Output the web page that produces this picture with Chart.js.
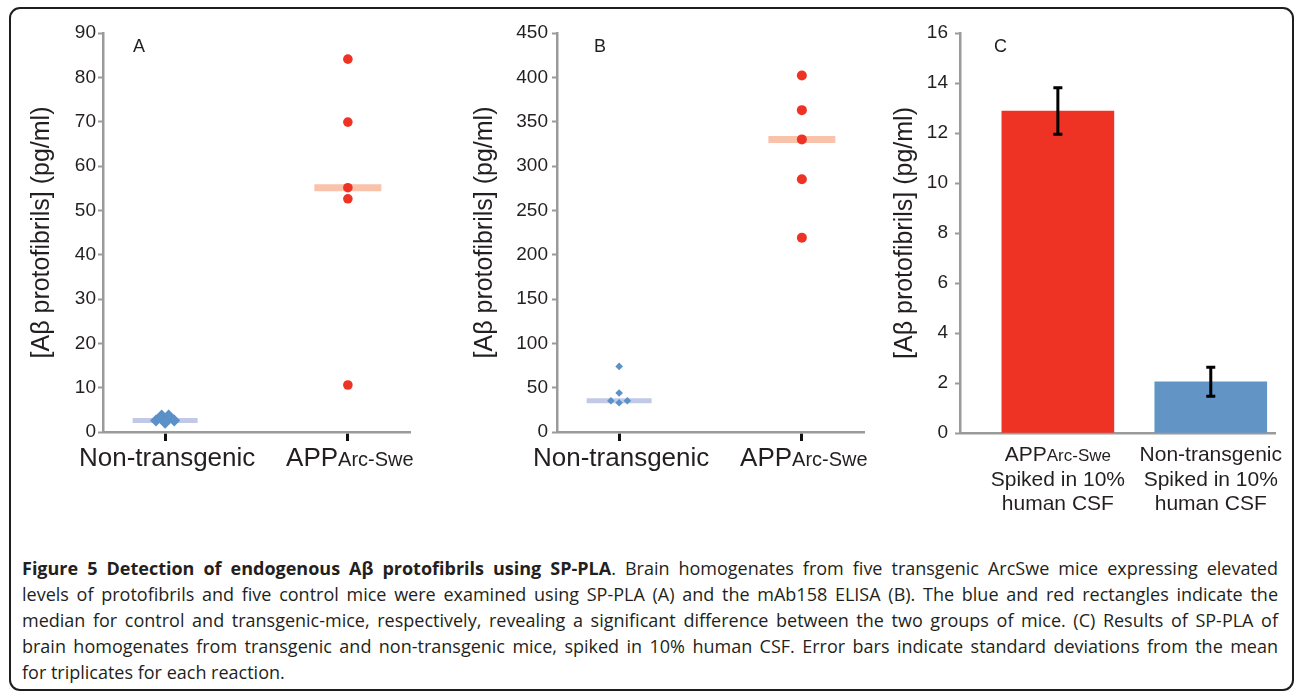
<!DOCTYPE html>
<html>
<head>
<meta charset="utf-8">
<script src="https://cdn.jsdelivr.net/npm/chart.js@4.4.1/dist/chart.umd.min.js"></script>
<style>
  html, body { margin: 0; padding: 0; background: #fff; }
  body { width: 1296px; height: 693px; position: relative; overflow: hidden; }
  #frame { position: absolute; left: 9px; top: 7px; width: 1285px; height: 684px; border: 2px solid #1e1e1e; border-radius: 11px; box-sizing: border-box; }
  canvas { position: absolute; top: 0; }
  #caption { position: absolute; left: 22px; top: 555px; width: 1256px; font-family: "Open Sans", sans-serif; font-size: 18px; line-height: 26px; color: #231f20; }
  #caption div { text-align: justify; text-align-last: justify; }
  #caption div.last { text-align: left; text-align-last: left; }
  #caption b { font-weight: 700; }
</style>
</head>
<body>
<div id="frame"></div>
<canvas id="chartA" width="440" height="530" style="left:0px"></canvas>
<canvas id="chartB" width="450" height="530" style="left:440px"></canvas>
<canvas id="chartC" width="416" height="530" style="left:880px"></canvas>
<div id="caption">
  <div><b>Figure 5 Detection of endogenous Aβ protofibrils using SP-PLA</b>. Brain homogenates from five transgenic ArcSwe mice expressing elevated</div>
  <div>levels of protofibrils and five control mice were examined using SP-PLA (A) and the mAb158 ELISA (B). The blue and red rectangles indicate the</div>
  <div>median for control and transgenic-mice, respectively, revealing a significant difference between the two groups of mice. (C) Results of SP-PLA of</div>
  <div>brain homogenates from transgenic and non-transgenic mice, spiked in 10% human CSF. Error bars indicate standard deviations from the mean</div>
  <div class="last">for triplicates for each reaction.</div>
</div>
<script>
// ---------------- data ----------------
const yTitle = '[Aβ protofibrils] (pg/ml)';
const groupsAB = [
  { main: 'Non-transgenic', sub: '' },
  { main: 'APP', sub: 'Arc-Swe' }
];
const groupsC = [
  { main: 'APP', sub: 'Arc-Swe', extra: ['Spiked in 10%', 'human CSF'] },
  { main: 'Non-transgenic', sub: '', extra: ['Spiked in 10%', 'human CSF'] }
];
// Panel A: SP-PLA
const aNonTg = [3.7, 3.7, 2.6, 2.6, 2.1];
const aNonTgJitter = [-0.019, 0.019, -0.05, 0.05, 0];
const aTg = [84.1, 69.9, 55.1, 52.6, 10.6];
const aTicks = [0, 10, 20, 30, 40, 50, 60, 70, 80, 90];
// Panel B: mAb158 ELISA
const bNonTg = [74, 44, 35.3, 35.3, 33];
const bNonTgJitter = [0, 0, -0.045, 0.045, 0];
const bTg = [402, 363, 330, 285, 219];
const bTicks = [0, 50, 100, 150, 200, 250, 300, 350, 400, 450];
// Panel C: spiked in 10% human CSF
const cMeans = [12.88, 2.05];
const cSD = [0.93, 0.58];
const cTicks = [0, 2, 4, 6, 8, 10, 12, 14, 16];

// ---------------- styles ----------------
const FONT = '"Liberation Sans", Arial, sans-serif';
const TXT = '#231f20';
const AXIS = '#9a9a9a';
const RED = '#ee3224';
const BLUE = '#6394c6';
const DIAMOND = '#5b90c8';
const SALMON = '#f8c3aa';
const LAVENDER = '#c1c9e6';

function median(arr) {
  const s = arr.slice().sort((a, b) => a - b);
  const m = Math.floor(s.length / 2);
  return s.length % 2 ? s[m] : (s[m - 1] + s[m]) / 2;
}

const labelPlugin = {
  id: 'groupLabels',
  afterDraw(chart, args, opts) {
    const ctx = chart.ctx;
    const xs = chart.scales.x;
    const bottom = chart.chartArea.bottom;
    ctx.save();
    ctx.fillStyle = TXT;
    ctx.textBaseline = 'alphabetic';
    ctx.textAlign = 'left';
    opts.groups.forEach((g, i) => {
      const cx = xs.getPixelForValue(i + 1) + (opts.dx || 0);
      const fMain = opts.mainSize + 'px ' + FONT;
      const fSub = opts.subSize + 'px ' + FONT;
      ctx.font = fMain;
      const wMain = ctx.measureText(g.main).width;
      ctx.font = fSub;
      const wSub = g.sub ? ctx.measureText(g.sub).width : 0;
      let x0 = cx - (wMain + wSub) / 2;
      const y0 = bottom + opts.baseline;
      ctx.font = fMain;
      ctx.fillText(g.main, x0, y0);
      if (g.sub) { ctx.font = fSub; ctx.fillText(g.sub, x0 + wMain, y0); }
      if (g.extra) {
        ctx.font = (opts.extraSize || opts.mainSize) + 'px ' + FONT;
        ctx.textAlign = 'center';
        g.extra.forEach((t, k) => ctx.fillText(t, cx, y0 + (k + 1) * opts.lineGap));
        ctx.textAlign = 'left';
      }
    });
    if (opts.letter) {
      ctx.font = '18px ' + FONT;
      ctx.fillText(opts.letter.text, opts.letter.x, opts.letter.y);
    }
    ctx.restore();
  }
};

const errorPlugin = {
  id: 'errBars',
  afterDatasetsDraw(chart, args, opts) {
    if (!opts.sd) return;
    const ctx = chart.ctx, xs = chart.scales.x, ys = chart.scales.y;
    ctx.save();
    ctx.strokeStyle = '#000';
    ctx.lineWidth = 3;
    opts.means.forEach((m, i) => {
      const x = xs.getPixelForValue(i + 1);
      const yt = ys.getPixelForValue(m + opts.sd[i]);
      const yb = ys.getPixelForValue(m - opts.sd[i]);
      ctx.beginPath();
      ctx.moveTo(x, yt); ctx.lineTo(x, yb);
      ctx.moveTo(x - 4.5, yt); ctx.lineTo(x + 4.5, yt);
      ctx.moveTo(x - 4.5, yb); ctx.lineTo(x + 4.5, yb);
      ctx.stroke();
    });
    ctx.restore();
  }
};

function yScale(ticks, width, titlePad, labelPad) {
  return {
    type: 'linear',
    min: ticks[0],
    max: ticks[ticks.length - 1],
    afterBuildTicks: s => { s.ticks = ticks.map(v => ({ value: v })); },
    ticks: { font: { family: FONT, size: 19 }, color: TXT, padding: labelPad },
    grid: { drawOnChartArea: false, drawTicks: true, tickLength: 5, tickWidth: 2, tickColor: AXIS, color: AXIS },
    border: { display: true, color: AXIS, width: 2.5 },
    title: { display: true, text: yTitle, color: TXT, font: { family: FONT, size: 25, lineHeight: 1 }, padding: { top: titlePad, bottom: 0 } },
    afterFit: s => { s.width = width; s.paddingTop = 0; s.paddingBottom = 0; }
  };
}

function xScale(min, max, showTicks) {
  return {
    type: 'linear',
    min: min,
    max: max,
    offset: false,
    afterBuildTicks: s => { s.ticks = [{ value: 1 }, { value: 2 }]; },
    ticks: { display: false },
    grid: showTicks
      ? { display: true, offset: false, drawOnChartArea: false, drawTicks: true, tickLength: 9, tickWidth: 3, tickColor: '#111', color: 'rgba(0,0,0,0)' }
      : { display: false, offset: false },
    border: { display: true, color: AXIS, width: 2.5 },
    afterFit: s => { s.height = 80; s.paddingLeft = 0; s.paddingRight = 0; }
  };
}

function scatterPanel(id, nonTg, jitter, tg, ticks, o) {
  return new Chart(document.getElementById(id), {
    type: 'scatter',
    data: {
      datasets: [
        { data: tg.map(v => ({ x: 2, y: v })), pointStyle: 'circle', pointRadius: o.redR, backgroundColor: RED, borderWidth: 0 },
        { data: nonTg.map((v, i) => ({ x: 1 + jitter[i], y: v })), pointStyle: 'rectRot', pointRadius: o.blueR, backgroundColor: DIAMOND, borderWidth: 0 },
        { data: [{ x: 2, y: median(tg) }], pointStyle: 'line', pointRadius: 33.5, borderColor: SALMON, borderWidth: 7 },
        { data: [{ x: 1, y: median(nonTg) }], pointStyle: 'line', pointRadius: 32.5, borderColor: LAVENDER, borderWidth: 5 }
      ]
    },
    options: {
      responsive: false,
      animation: false,
      events: [],
      layout: { autoPadding: false, padding: { left: 0, top: 33, right: o.right, bottom: 18 } },
      scales: { x: xScale(0.66, 2.34, true), y: yScale(ticks, o.yWidth, o.titlePad, o.labelPad) },
      plugins: {
        legend: { display: false },
        tooltip: { enabled: false },
        groupLabels: { groups: groupsAB, mainSize: 26, subSize: 20, baseline: 34, dx: 2, letter: o.letter }
      }
    },
    plugins: [labelPlugin]
  });
}

scatterPanel('chartA', aNonTg, aNonTgJitter, aTg, aTicks,
  { redR: 4.8, blueR: 6, right: 30, yWidth: 103, titlePad: 30, labelPad: 2, letter: { text: 'A', x: 133, y: 52 } });
scatterPanel('chartB', bNonTg, bNonTgJitter, bTg, bTicks,
  { redR: 5, blueR: 3.8, right: 26, yWidth: 117, titlePad: 33, labelPad: 4, letter: { text: 'B', x: 154, y: 52 } });

new Chart(document.getElementById('chartC'), {
  type: 'bar',
  data: {
    datasets: [{
      data: cMeans.map((v, i) => ({ x: i + 1, y: v })),
      backgroundColor: [RED, BLUE],
      borderWidth: 0,
      barThickness: 112
    }]
  },
  options: {
    responsive: false,
    animation: false,
    events: [],
    layout: { autoPadding: false, padding: { left: 0, top: 33, right: 21, bottom: 17 } },
    scales: { x: xScale(0.36, 2.42, false), y: yScale(cTicks, 80, 13, 7) },
    plugins: {
      legend: { display: false },
      tooltip: { enabled: false },
      errBars: { means: cMeans, sd: cSD },
      groupLabels: { groups: groupsC, mainSize: 21, subSize: 17, extraSize: 21, baseline: 28, lineGap: 24.5, dx: 0, letter: { text: 'C', x: 114, y: 52 } }
    }
  },
  plugins: [labelPlugin, errorPlugin]
});
</script>
</body>
</html>
